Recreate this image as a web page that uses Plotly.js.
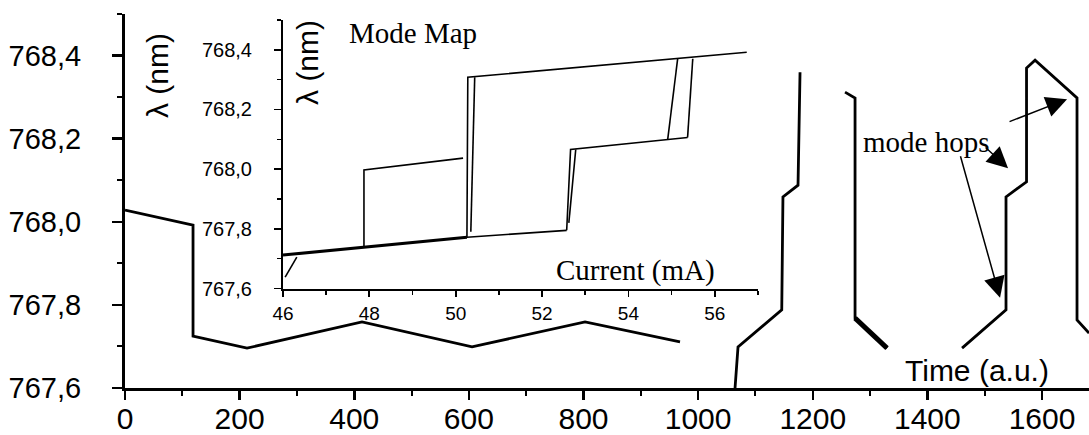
<!DOCTYPE html>
<html>
<head>
<meta charset="utf-8">
<script src="https://cdn.plot.ly/plotly-3.0.1.min.js"></script>
<style>html,body{margin:0;padding:0;background:#fff;}#chart{width:1089px;height:435px;}</style>
</head>
<body>
<div id="chart"></div>
<script>
// ---- main chart: wavelength vs time ----
const timeAU = [0, 118.7, 118.7, 212.9, 413.5, 605.5, 802.7, 968.4, null,
                1064.4, 1069.6, 1145.9, 1148, 1174.3, 1177.8, null,
                1256.3, 1273.8, 1273.8, 1329.6, null,
                1460.5, 1537.2, 1537.2, 1573, 1573, 1587.9, 1661.1, 1661.1, 1682];
const lambdaNm = [768.028, 767.992, 767.725, 767.696, 767.759, 767.699, 767.759, 767.711, null,
                  767.600, 767.699, 767.788, 768.060, 768.088, 768.360, null,
                  768.312, 768.298, 767.768, 767.696, null,
                  767.696, 767.788, 768.060, 768.096, 768.370, 768.389, 768.298, 767.764, 767.732];
// thicker stretch of the descending branch
const timeThick = [1273.8, 1329.6];
const lambdaThick = [767.768, 767.696];

const xTickVals = [0, 200, 400, 600, 800, 1000, 1200, 1400, 1600];
const xTickText = ['0', '200', '400', '600', '800', '1000', '1200', '1400', '1600'];
const yTickVals = [767.6, 767.8, 768.0, 768.2, 768.4];
const yTickText = ['767,6', '767,8', '768,0', '768,2', '768,4'];

// ---- inset: mode map, wavelength vs current ----
const currentBottom = [46, 50.26];
const lambdaBottom = [767.712, 767.772];
const currentModes = [50.26, 52.57, null,
                      46.05, 46.32, null,
                      47.875, 47.875, 50.17, null,
                      50.26, 50.28, 56.74, null,
                      50.35, 50.44, null,
                      52.57, 52.66, 55.37, null,
                      52.62, 52.78, null,
                      54.91, 55.14, null,
                      55.37, 55.49];
const lambdaModes = [767.772, 767.795, null,
                     767.638, 767.705, null,
                     767.736, 767.997, 768.037, null,
                     767.772, 768.308, 768.392, null,
                     767.790, 768.308, null,
                     767.795, 768.066, 768.106, null,
                     767.820, 768.066, null,
                     768.100, 768.370, null,
                     768.106, 768.370];
const insetXTickVals = [46, 48, 50, 52, 54, 56];
const insetXTickText = ['46', '48', '50', '52', '54', '56'];
const insetYTickVals = [767.6, 767.8, 768.0, 768.2, 768.4];
const insetYTickText = ['767,6', '767,8', '768,0', '768,2', '768,4'];

const SANS = '"Liberation Sans", Arial, Helvetica, sans-serif';
const SERIF = '"Liberation Serif", "Times New Roman", serif';

const traces = [
  {x: timeAU, y: lambdaNm, type: 'scatter', mode: 'lines', connectgaps: false,
   line: {color: '#000', width: 2.8}, xaxis: 'x', yaxis: 'y', hoverinfo: 'skip'},
  {x: timeThick, y: lambdaThick, type: 'scatter', mode: 'lines',
   line: {color: '#000', width: 5}, xaxis: 'x', yaxis: 'y', hoverinfo: 'skip'},
  {x: currentBottom, y: lambdaBottom, type: 'scatter', mode: 'lines',
   line: {color: '#000', width: 3}, xaxis: 'x2', yaxis: 'y2', hoverinfo: 'skip'},
  {x: currentModes, y: lambdaModes, type: 'scatter', mode: 'lines', connectgaps: false,
   line: {color: '#000', width: 1.6}, xaxis: 'x2', yaxis: 'y2', hoverinfo: 'skip'}
];

const arrowStyle = {showarrow: true, text: '', arrowhead: 2, arrowsize: 2.8, arrowwidth: 1.5,
                    arrowcolor: '#000', standoff: 0, startstandoff: 0, xref: 'x', yref: 'y'};

const layout = {
  width: 1089, height: 435,
  margin: {l: 125, r: 0, t: 14, b: 47, pad: 0},
  paper_bgcolor: '#fff', plot_bgcolor: '#fff',
  showlegend: false,
  font: {family: SANS, color: '#000'},
  xaxis: {
    domain: [0, 1], range: [0, 1682], showgrid: false, zeroline: false,
    showline: true, linecolor: '#000', linewidth: 3, mirror: false,
    tickmode: 'array', tickvals: xTickVals, ticktext: xTickText,
    ticks: 'outside', ticklen: 9, tickwidth: 2.5, tickcolor: '#000',
    ticklabelstandoff: -7,
    tickfont: {family: SANS, size: 30, color: '#000'},
    minor: {tickmode: 'linear', tick0: 0, dtick: 100, ticks: 'outside', ticklen: 5, tickwidth: 2, tickcolor: '#000'}
  },
  yaxis: {
    domain: [0, 1], range: [767.6, 768.5], showgrid: false, zeroline: false,
    showline: true, linecolor: '#000', linewidth: 3,
    tickmode: 'array', tickvals: yTickVals, ticktext: yTickText,
    ticks: 'outside', ticklen: 10, tickwidth: 2.5, tickcolor: '#000',
    ticklabelstandoff: 25,
    tickfont: {family: SANS, size: 29, color: '#000'},
    minor: {tickmode: 'linear', tick0: 767.6, dtick: 0.1, ticks: 'outside', ticklen: 5, tickwidth: 2, tickcolor: '#000'}
  },
  xaxis2: {
    domain: [0.1639, 0.6566], anchor: 'y2', range: [46, 57], showgrid: false, zeroline: false,
    showline: true, linecolor: '#000', linewidth: 2,
    tickmode: 'array', tickvals: insetXTickVals, ticktext: insetXTickText,
    ticks: 'outside', ticklen: 6, tickwidth: 1.8, tickcolor: '#000',
    ticklabelstandoff: 1,
    tickfont: {family: SANS, size: 19, color: '#000'},
    minor: {tickmode: 'linear', tick0: 46, dtick: 1, ticks: 'outside', ticklen: 4, tickwidth: 1.5, tickcolor: '#000'}
  },
  yaxis2: {
    domain: [0.266, 0.984], anchor: 'x2', range: [767.6, 768.5], showgrid: false, zeroline: false,
    showline: true, linecolor: '#000', linewidth: 2,
    tickmode: 'array', tickvals: insetYTickVals, ticktext: insetYTickText,
    ticks: 'outside', ticklen: 7, tickwidth: 1.8, tickcolor: '#000',
    ticklabelstandoff: 18,
    tickfont: {family: SANS, size: 20, color: '#000'},
    minor: {tickmode: 'linear', tick0: 767.6, dtick: 0.1, ticks: 'outside', ticklen: 4, tickwidth: 1.5, tickcolor: '#000'}
  },
  annotations: [
    {text: 'λ (nm)', xref: 'paper', yref: 'paper', x: 0.0332, y: 0.834, textangle: -90,
     showarrow: false, xanchor: 'center', yanchor: 'middle', font: {family: SANS, size: 30, color: '#000'}},
    {text: 'λ (nm)', xref: 'paper', yref: 'paper', x: 0.1898, y: 0.8717, textangle: -90,
     showarrow: false, xanchor: 'center', yanchor: 'middle', font: {family: SANS, size: 30, color: '#000'}},
    {text: 'Mode Map', xref: 'paper', yref: 'paper', x: 0.2988, y: 0.949,
     showarrow: false, xanchor: 'center', yanchor: 'middle', font: {family: SERIF, size: 29, color: '#000'}},
    {text: 'Current (mA)', xref: 'paper', yref: 'paper', x: 0.530, y: 0.3155,
     showarrow: false, xanchor: 'center', yanchor: 'middle', font: {family: SERIF, size: 29, color: '#000'}},
    {text: 'mode hops', xref: 'paper', yref: 'paper', x: 0.831, y: 0.6578,
     showarrow: false, xanchor: 'center', yanchor: 'middle', font: {family: SERIF, size: 29, color: '#000'}},
    {text: 'Time (a.u.)', xref: 'paper', yref: 'paper', x: 0.8838, y: 0.048,
     showarrow: false, xanchor: 'center', yanchor: 'middle', font: {family: SANS, size: 30, color: '#000'}},
    Object.assign({x: 1643.7, y: 768.295, ax: -59, ay: 23}, arrowStyle),
    Object.assign({x: 1540.8, y: 768.129, ax: -24, ay: -22}, arrowStyle),
    Object.assign({x: 1526.8, y: 767.817, ax: -40, ay: -143}, arrowStyle)
  ]
};

Plotly.newPlot('chart', traces, layout, {staticPlot: true, displayModeBar: false});
</script>
</body>
</html>
